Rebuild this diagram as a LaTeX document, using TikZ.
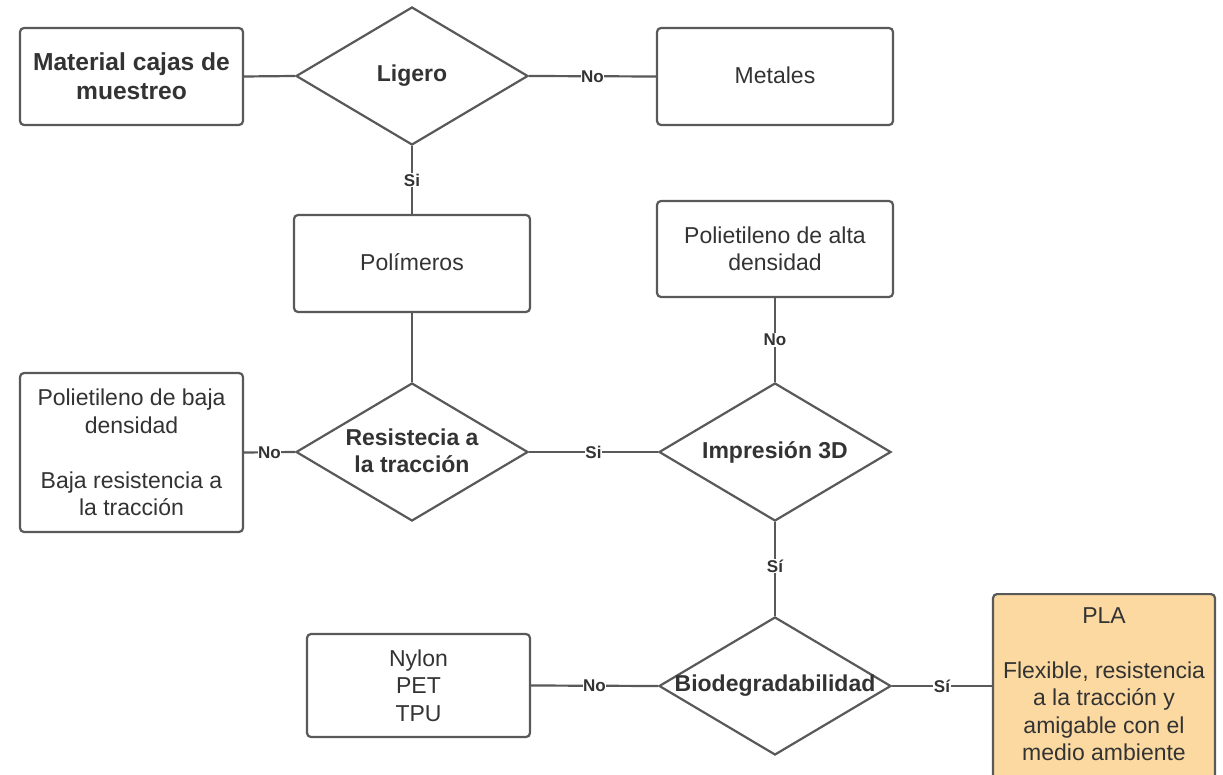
\documentclass[tikz,border=0pt]{standalone}
\usepackage{fontspec}
\setmainfont{Liberation Sans}
\usetikzlibrary{shapes.geometric}
\definecolor{edge}{HTML}{595959}
\definecolor{ink}{HTML}{333333}
\definecolor{plafill}{HTML}{FCD9A1}
\tikzset{
  box/.style={draw=edge, line width=2.2pt, rounded corners=4pt, fill=white,
    inner sep=0pt, align=center, text=ink,
    font=\fontsize{23}{27.5}\selectfont},
  dia/.style={draw=edge, line width=2.2pt, diamond, inner sep=0pt,
    minimum width=232pt, minimum height=138pt, fill=white},
  dtext/.style={align=center, text=ink, font=\fontsize{23}{27.5}\selectfont\bfseries},
  conn/.style={draw=edge, line width=2.2pt},
  lbl/.style={fill=white, inner sep=0.6pt, text=ink,
    font=\fontsize{17}{18}\selectfont\bfseries}
}
\begin{document}
\begin{tikzpicture}[x=1pt, y=-1pt]
  \clip (0,0) rectangle (1223,775);
  \fill[white] (0,0) rectangle (1223,775);

  % boxes
  \node[box, minimum width=223pt, minimum height=97pt, font=\fontsize{24.6}{29}\selectfont\bfseries]
    (mat) at (131.5,76.5) {Material cajas de\\muestreo};
  \node[box, minimum width=236pt, minimum height=97pt] (met) at (775,76.5) {\raisebox{3pt}{Metales}};
  \node[box, minimum width=236pt, minimum height=97pt] (pol) at (412,263.5) {\raisebox{3pt}{Polímeros}};
  \node[box, minimum width=236pt, minimum height=96pt] (alta) at (775,249) {Polietileno de alta\\densidad};
  \node[box, minimum width=223pt, minimum height=159pt] (baja) at (131.5,452.5)
    {Polietileno de baja\\densidad\\[27.5pt]Baja resistencia a\\la tracción};
  \node[box, minimum width=223pt, minimum height=103pt] (nyl) at (418.5,685.5) {Nylon\\PET\\TPU};
  \node[box, fill=plafill, minimum width=222pt, minimum height=212pt, anchor=north] (pla) at (1104,593) {};
  \node[dtext, font=\fontsize{23}{27.5}\selectfont, anchor=north, inner sep=0pt] (platext) at (1104,607)
    {PLA\\[27.5pt]Flexible, resistencia\\a la tracción y\\amigable con el\\medio ambiente};

  % decisions
  \node[dia] (lig) at (412,76) {};
  \node[dtext] at (lig.center) {Ligero};
  \node[dia] (res) at (412,452) {};
  \node[dtext] at ([yshift=1pt]res.center) {Resistecia a\\la tracción};
  \node[dia] (imp) at (775,452) {};
  \node[dtext] at (imp.center) {Impresión 3D};
  \node[dia] (bio) at (775,686) {};
  \node[dtext] at (bio.center) {Biodegradabilidad};

  % connectors
  \draw[conn] (mat.east) -- (lig.west);
  \draw[conn] (lig.east) -- node[lbl] {No} (met.west);
  \draw[conn] (lig.south) -- node[lbl] {Si} (pol.north);
  \draw[conn] (pol.south) -- (res.north);
  \draw[conn] (res.west) -- node[lbl] {No} (baja.east);
  \draw[conn] (res.east) -- node[lbl] {Si} (imp.west);
  \draw[conn] (imp.north) -- node[lbl] {No} (alta.south);
  \draw[conn] (imp.south) -- node[lbl, pos=0.47] {Sí} (bio.north);
  \draw[conn] (bio.west) -- node[lbl] {No} (nyl.east);
  \draw[conn] (bio.east) -- node[lbl] {Sí} (pla.west |- bio.east);
\end{tikzpicture}
\end{document}
